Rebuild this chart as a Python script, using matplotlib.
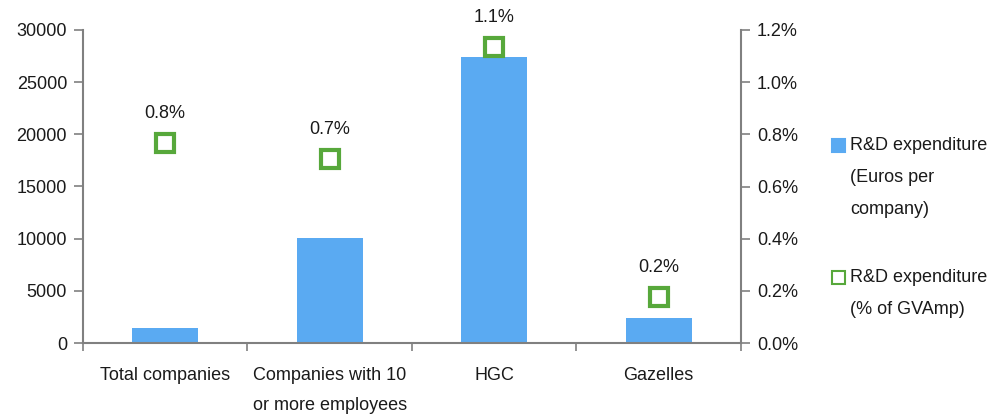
import numpy as np
import matplotlib
matplotlib.use("Agg")
import matplotlib.pyplot as plt
from matplotlib.patches import Rectangle

plt.rcParams['font.family'] = ['Liberation Sans', 'DejaVu Sans']

# Daten
kategorien = ["Total companies", "Companies with 10\nor more employees", "HGC", "Gazelles"]
ausgaben_euro = [1470, 10100, 27450, 2430]      # R&D expenditure (Euros per company)
ausgaben_proz = [0.766, 0.706, 1.134, 0.178]    # R&D expenditure (% of GVAmp)
proz_labels = ["0.8%", "0.7%", "1.1%", "0.2%"]
legende = [["R&D expenditure", "(Euros per", "company)"],
           ["R&D expenditure", "(% of GVAmp)"]]

blau = '#5AAAF2'
gruen = '#57A83B'
grau = '#808080'
txt = '#1a1a1a'
fs = 13

W, H = 995, 420
fig = plt.figure(figsize=(W/100, H/100), dpi=100)
ax = fig.add_axes([83/W, 1-343/H, (741-83)/W, (343-30)/H])
ax2 = ax.twinx()

x = np.arange(len(kategorien))
ax.bar(x, ausgaben_euro, width=0.4, color=blau, zorder=2)
ax.set_xlim(-0.5, len(kategorien)-0.5)
ax.set_ylim(0, 30000)
ax.set_yticks(np.arange(0, 30001, 5000))

# Marker auf der rechten Achse
ax2.plot(x, ausgaben_proz, linestyle='none', marker='s', ms=13.5, mfc='white',
         mec=gruen, mew=3, zorder=3)
for xi, yi, lab in zip(x, ausgaben_proz, proz_labels):
    ax2.annotate(lab, (xi, yi), xytext=(0, 15), textcoords='offset points',
                 ha='center', va='bottom', fontsize=fs, color=txt)
rticks = np.arange(0, 1.2001, 0.2)
ax2.set_ylim(0, 1.2)
ax2.set_yticks(rticks)
ax2.set_yticklabels(["%.1f%%" % v for v in rticks])

# Achsen-Styling
for a in (ax, ax2):
    a.spines['top'].set_visible(False)
    for s in ('left', 'right', 'bottom'):
        a.spines[s].set_color(grau)
        a.spines[s].set_linewidth(1.5)
    a.tick_params(axis='y', colors=grau, labelcolor=txt, labelsize=fs,
                  length=6.5, width=1.2, pad=5)
ax.spines['right'].set_visible(False)
ax2.spines['left'].set_visible(False)
ax2.spines['bottom'].set_visible(False)

# Kategorie-Ticks an den Grenzen, Labels in der Mitte
ax.set_xticks(np.arange(-0.5, len(kategorien), 1.0))
ax.set_xticklabels([])
ax.set_xticks(x, minor=True)
ax.set_xticklabels(kategorien, minor=True, fontsize=fs, color=txt,
                   linespacing=2.0, va='top')
ax.tick_params(axis='x', which='major', colors=grau, length=6, width=1.2)
ax.tick_params(axis='x', which='minor', length=0, pad=17)

# Legende (manuell, wegen großem Zeilenabstand)
leg_y = [145, 277]
for farbe_fill, farbe_rand, y0, zeilen in zip([blau, 'white'], [blau, gruen], leg_y, legende):
    fig.add_artist(Rectangle((832/W, 1-(y0+7)/H), 13/W, 13/H, transform=fig.transFigure,
                             facecolor=farbe_fill, edgecolor=farbe_rand, lw=1.5))
    for i, z in enumerate(zeilen):
        fig.text(850/W, 1-(y0+i*32)/H, z, fontsize=fs, color=txt, ha='left', va='center')

fig.savefig("out.png", dpi=100)
